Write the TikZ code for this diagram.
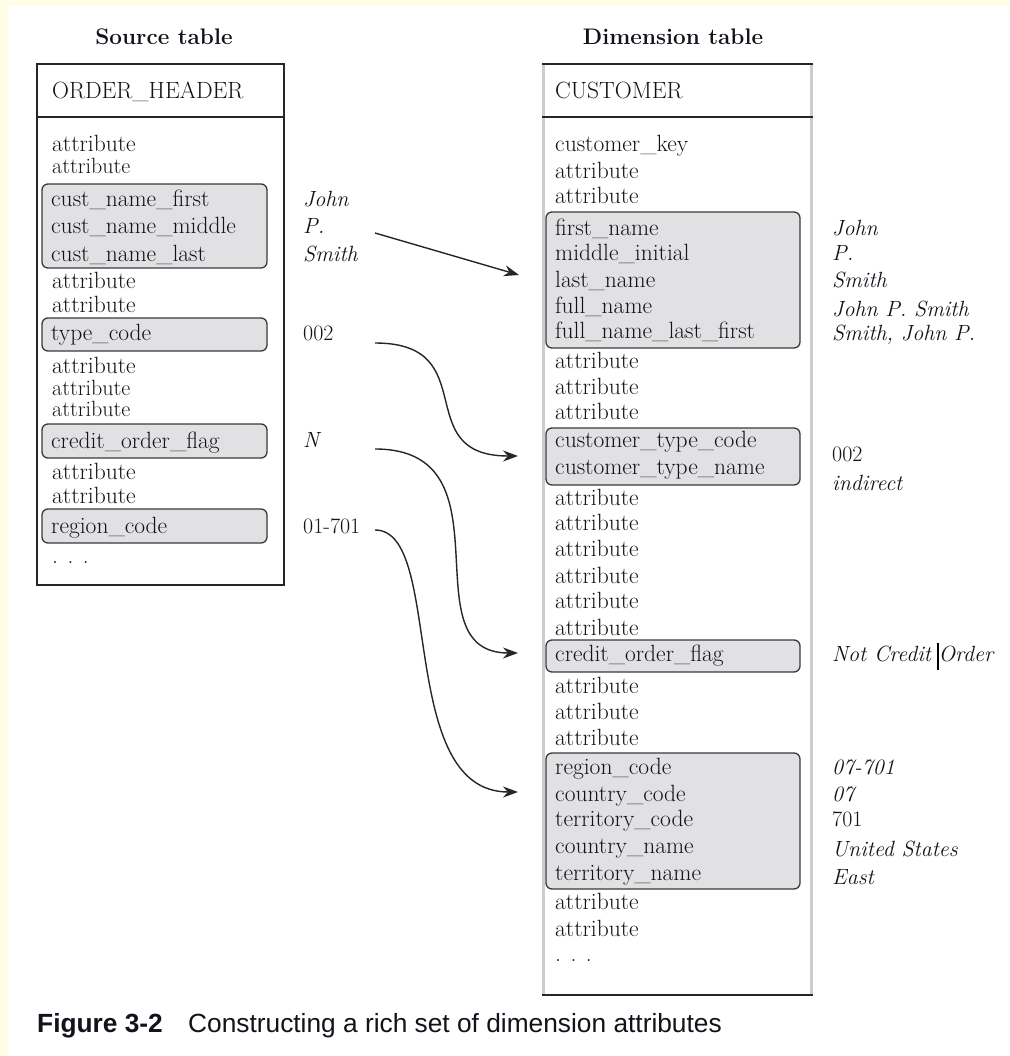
\documentclass[tikz,border=0pt]{standalone}
\usepackage{fontspec}
\setsansfont{Liberation Sans}
\usetikzlibrary{arrows.meta}
\definecolor{cream}{HTML}{FFFDE6}
\definecolor{boxgray}{HTML}{E1E1E3}
\definecolor{boxline}{HTML}{3A3A3A}
\definecolor{sidegray}{HTML}{CDCDCD}
\definecolor{ink}{HTML}{12121A}
\begin{document}
\begin{tikzpicture}[x=1pt,y=-1pt,
  txt/.style={anchor=mid west, inner sep=0pt, yshift=-4pt, text=ink, font=\fontsize{23.5}{25}\selectfont},
  txts/.style={txt, font=\fontsize{22}{24}\selectfont},
  val/.style={anchor=mid west, inner sep=0pt, yshift=-4pt, text=ink, font=\fontsize{22}{25}\selectfont\itshape},
  valup/.style={anchor=mid west, inner sep=0pt, yshift=-4pt, text=ink, font=\fontsize{22}{25}\selectfont},
  grp/.style={draw=boxline, fill=boxgray, line width=1.3pt, rounded corners=6pt},
  tframe/.style={draw=black!85, line width=1.8pt},
  arr/.style={draw=black!85, line width=1.4pt, -{Stealth[length=15pt,width=11pt]}},
  ttl/.style={inner sep=0pt, text=ink, font=\fontsize{22.5}{25}\selectfont\bfseries},
  captxt/.style={anchor=base west, inner sep=0pt, text=ink, font=\sffamily\fontsize{26.3}{28}\selectfont}
]
% background
\fill[cream] (0,0) rectangle (1009,1056);
\fill[white] (8,6) rectangle (1009,1056);
\useasboundingbox (0,0) rectangle (1009,1056);

% titles
\node[ttl] (tsrc) at (164,37) {Source table};
\node[ttl] (tdim) at (673,37) {Dimension table};

% ---------- source table ----------
\path[grp] (42,184) rectangle (267,268);
\path[grp] (42,318) rectangle (267,351);
\path[grp] (42,424) rectangle (267,458);
\path[grp] (42,509) rectangle (267,543);
\draw[tframe] (37,64) rectangle (284,585);
\draw[tframe] (37,117) -- (284,117);

\node[txt] (oh) at (52,92) {ORDER\_HEADER};
\node[txt] (sa1) at (52,145) {attribute};
\node[txts] (sa2) at (52,167) {attribute};
\node[txt] (cnf) at (51,200) {cust\_name\_first};
\node[txt] (cnm) at (51,227) {cust\_name\_middle};
\node[txt] (cnl) at (51,255) {cust\_name\_last};
\node[txt] (sa3) at (52,282) {attribute};
\node[txt] (sa4) at (52,306) {attribute};
\node[txt] (stc) at (51,334) {type\_code};
\node[txt] (sa5) at (52,367) {attribute};
\node[txts] (sa6) at (52,389) {attribute};
\node[txts] (sa7) at (52,410) {attribute};
\node[txt] (scf) at (51,442) {credit\_order\_flag};
\node[txt] (sa8) at (52,473) {attribute};
\node[txt] (sa9) at (52,497) {attribute};
\node[txt] (src) at (51,527) {region\_code};
\node[txt] (sdots) at (52,557) {. . .};

% source values
\node[val] (vjohn) at (303,200) {John};
\node[val] (vp) at (303,227) {P.};
\node[val] (vsmith) at (303,255) {Smith};
\node[valup] (v002) at (303,334) {002};
\node[val] (vn) at (303,441) {N};
\node[valup] (vreg) at (303,527) {01-701};

% ---------- dimension table ----------
\path[grp] (546,212) rectangle (800,348);
\path[grp] (546,428) rectangle (800,485);
\path[grp] (546,640) rectangle (800,672);
\path[grp] (546,753) rectangle (800,889);
\draw[sidegray, line width=3pt] (543,64) -- (543,995);
\draw[sidegray, line width=3pt] (811,64) -- (811,995);
\draw[black!85, line width=1.6pt] (542,64) -- (813,64);
\draw[black!85, line width=1.6pt] (542,117) -- (813,117);
\draw[black!85, line width=1.8pt] (542,995) -- (813,995);

\node[txt] (cust) at (555,92) {CUSTOMER};
\node[txt] (ck) at (555,145) {customer\_key};
\node[txt] (da1) at (555,172) {attribute};
\node[txt] (da2) at (555,197) {attribute};
\node[txt] (fn) at (555,229) {first\_name};
\node[txt] (mi) at (555,254) {middle\_initial};
\node[txt] (ln) at (555,281) {last\_name};
\node[txt] (fuln) at (555,307) {full\_name};
\node[txt] (flf) at (555,332) {full\_name\_last\_first};
\node[txt] (da3) at (555,362) {attribute};
\node[txt] (da4) at (555,388) {attribute};
\node[txt] (da5) at (555,413) {attribute};
\node[txt] (ctc) at (555,441) {customer\_type\_code};
\node[txt] (ctn) at (555,468) {customer\_type\_name};
\node[txt] (da6) at (555,499) {attribute};
\node[txt] (da7) at (555,524) {attribute};
\node[txt] (da8) at (555,550) {attribute};
\node[txt] (da9) at (555,577) {attribute};
\node[txt] (da10) at (555,602) {attribute};
\node[txt] (da11) at (555,629) {attribute};
\node[txt] (dcf) at (555,655) {credit\_order\_flag};
\node[txt] (da12) at (555,687) {attribute};
\node[txt] (da13) at (555,713) {attribute};
\node[txt] (da14) at (555,739) {attribute};
\node[txt] (drc) at (555,768) {region\_code};
\node[txt] (dcc) at (555,795) {country\_code};
\node[txt] (dtc) at (555,820) {territory\_code};
\node[txt] (dcn) at (555,847) {country\_name};
\node[txt] (dtn) at (555,874) {territory\_name};
\node[txt] (da15) at (555,903) {attribute};
\node[txt] (da16) at (555,930) {attribute};
\node[txt] (ddots) at (555,955) {. . .};

% dimension values
\node[val] (wjohn) at (832,229) {John};
\node[val] (wp) at (832,254) {P.};
\node[val] (wsmith) at (832,281) {Smith};
\node[val] (wfull) at (832,310) {John P. Smith};
\node[val] (wlf) at (832,334) {Smith, John P.};
\node[valup] (w002) at (832,455) {002};
\node[val] (wind) at (832,484) {indirect};
\node[val] (wncr) at (832,655) {Not Credit Order};
\node[val] (wreg) at (832,768) {07-701};
\node[val] (w07) at (832,795) {07};
\node[valup] (w701) at (832,820) {701};
\node[val] (wus) at (832,850) {United States};
\node[val] (weast) at (832,878) {East};
\draw[black, line width=1.5pt] (938,643) -- (938,670);

% connectors
\coordinate (s1) at (375,233);
\coordinate (e1) at (519,275);
\coordinate (s2) at (375,343);
\coordinate (e2) at (518,456);
\coordinate (s3) at (375,449);
\coordinate (e3) at (518,653);
\coordinate (s4) at (375,530);
\coordinate (e4) at (518,792);
\draw[arr] (s1) -- (e1);
\draw[arr] (s2) .. controls (485,343) and (408,456) .. (e2);
\draw[arr] (s3) .. controls (515,449) and (406,653) .. (e3);
\draw[arr] (s4) .. controls (445,530) and (395,792) .. (e4);

% caption
\node[captxt, font=\sffamily\bfseries\fontsize{26.3}{28}\selectfont] (capa) at (37,1032) {Figure 3-2};
\node[captxt] (capb) at (188,1032) {Constructing a rich set of dimension attributes};
\end{tikzpicture}
\end{document}
